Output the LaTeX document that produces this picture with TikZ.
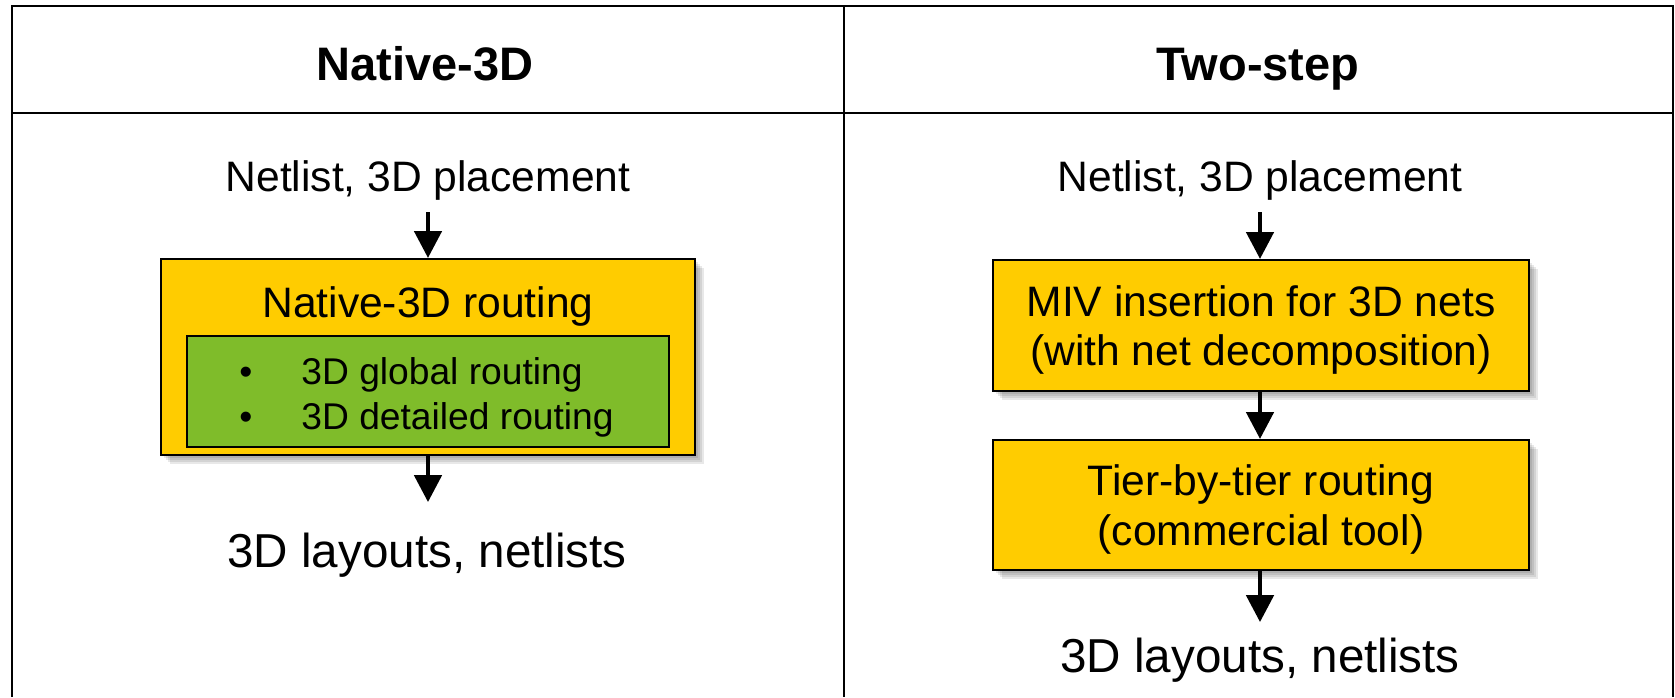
\documentclass[tikz,border=0pt]{standalone}
\usepackage{fontspec}
\setmainfont{Liberation Sans}
\usetikzlibrary{arrows.meta}
\definecolor{boxyellow}{HTML}{FFCC00}
\definecolor{boxgreen}{HTML}{7FBC2A}
\begin{document}
\begin{tikzpicture}[x=0.5pt,y=-0.5pt,
  frame/.style={line width=1pt},
  flow/.style={line width=2.4pt,-{Triangle[width=13.5pt,length=13.5pt]}},
  head/.style={font=\fontsize{23.5}{28}\selectfont\bfseries,anchor=base,inner sep=0pt},
  plain/.style={font=\fontsize{21.3}{25}\selectfont,anchor=base},
  outtext/.style={font=\fontsize{23.8}{28}\selectfont,anchor=base},
  greentext/.style={font=\fontsize{18.6}{22}\selectfont,anchor=base west,inner sep=0pt},
  shadowlayer/.style={preaction={fill=black,opacity=0.09,transform canvas={xshift=#1,yshift=-#1}}},
  ybox/.style={draw=black,line width=1pt,fill=boxyellow,inner sep=0pt,
    shadowlayer=4.5pt,shadowlayer=3.5pt,shadowlayer=2.5pt,shadowlayer=1.5pt},
  gbox/.style={draw=black,line width=1pt,fill=boxgreen,inner sep=0pt}]
\useasboundingbox (0,0) rectangle (1675,697);
% frame
\draw[frame] (12,697) -- (12,6) -- (1673,6) -- (1673,697);
\draw[frame] (12,113) -- (1673,113);
\draw[frame] (844,6) -- (844,697);
% headers
\node[head] (h1) at (425,80) {Native-3D};
\node[head] (h2) at (1258,80) {Two-step};
% left column
\node[plain,inner xsep=0pt,inner ysep=6pt] (nl) at (428,191) {Netlist, 3D placement};
\node[ybox,minimum width=267pt,minimum height=98pt] (yb) at (428,357) {};
\node[plain,inner sep=0pt] (ytitle) at (428,317) {Native-3D routing};
\node[gbox,minimum width=241pt,minimum height=55.5pt] (gb) at (428,391.5) {};
\node[font=\fontsize{18.6}{22}\selectfont,anchor=base,inner sep=0pt] (b1) at (246,384) {•};
\node[font=\fontsize{18.6}{22}\selectfont,anchor=base,inner sep=0pt] (b2) at (246,429) {•};
\node[greentext] (g1) at (301,384) {3D global routing};
\node[greentext] (g2) at (301,429) {3D detailed routing};
\node[outtext,inner xsep=0pt,inner ysep=15pt] (ol) at (427,567) {3D layouts, netlists};
\draw[flow] (nl.south) -- (nl.south |- yb.north);
\draw[flow] (nl.south |- yb.south) -- (nl.south |- ol.north);
% right column
\node[plain,inner xsep=0pt,inner ysep=6pt] (nr) at (1260,191) {Netlist, 3D placement};
\node[ybox,minimum width=268pt,minimum height=65.5pt] (m1) at (1261,325.5) {};
\node[plain,inner sep=0pt] (m1a) at (1261,316) {MIV insertion for 3D nets};
\node[plain,inner sep=0pt] (m1b) at (1261,365) {(with net decomposition)};
\node[ybox,minimum width=268pt,minimum height=65pt] (m2) at (1261,505) {};
\node[plain,inner sep=0pt] (m2a) at (1261,495) {Tier-by-tier routing};
\node[plain,inner sep=0pt] (m2b) at (1261,545) {(commercial tool)};
\node[outtext,inner xsep=0pt,inner ysep=7.5pt] (or) at (1260,672) {3D layouts, netlists};
\draw[flow] (nr.south) -- (nr.south |- m1.north);
\draw[flow] (nr.south |- m1.south) -- (nr.south |- m2.north);
\draw[flow] (nr.south |- m2.south) -- (nr.south |- or.north);
\end{tikzpicture}
\end{document}
